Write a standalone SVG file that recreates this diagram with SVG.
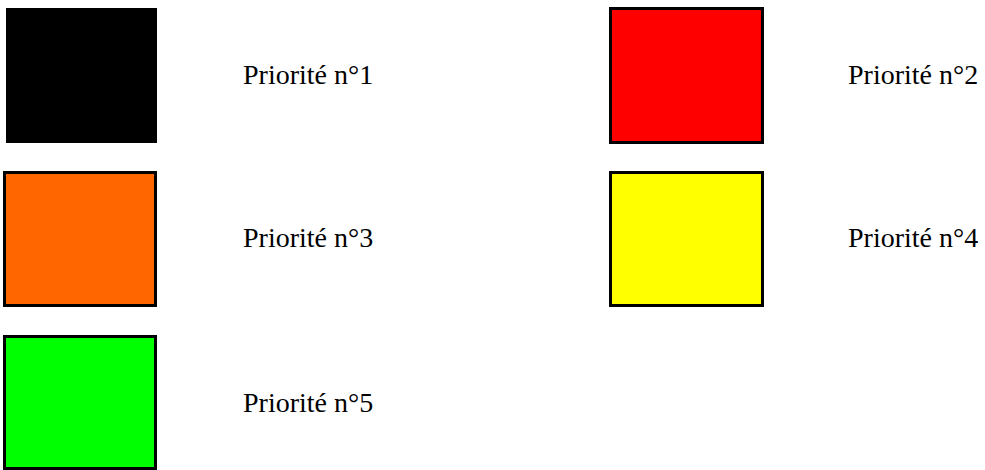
<svg xmlns="http://www.w3.org/2000/svg" width="985" height="470" viewBox="0 0 985 470">
<style>
.box{stroke:#000;stroke-width:3}
</style>
<rect width="985" height="470" fill="#fff"/>
<g id="p1"><rect x="6" y="8" width="151" height="135" fill="#000"/><text x="243" y="84" font-family="Liberation Serif" font-size="28">Priorité n°1</text></g>
<g id="p2"><rect class="box" x="610.5" y="8.5" width="152" height="134" fill="#ff0000"/><text x="848" y="84" font-family="Liberation Serif" font-size="28">Priorité n°2</text></g>
<g id="p3"><rect class="box" x="4.5" y="172.5" width="151" height="133" fill="#ff6600"/><text x="243" y="247" font-family="Liberation Serif" font-size="28">Priorité n°3</text></g>
<g id="p4"><rect class="box" x="610.5" y="172.5" width="152" height="133" fill="#ffff00"/><text x="848" y="247" font-family="Liberation Serif" font-size="28">Priorité n°4</text></g>
<g id="p5"><rect class="box" x="4.5" y="336.5" width="151" height="132" fill="#00ff00"/><text x="243" y="412" font-family="Liberation Serif" font-size="28">Priorité n°5</text></g>
<g id="connectors"/>
</svg>
